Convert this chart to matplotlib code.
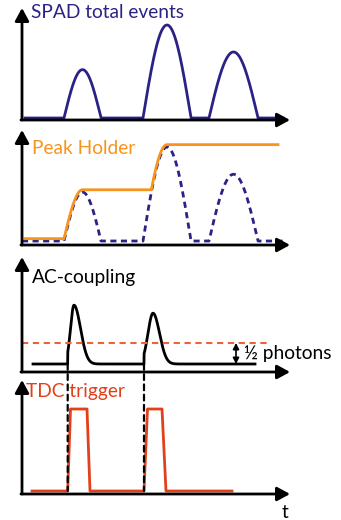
import numpy as np
import matplotlib
matplotlib.use("Agg")
import matplotlib.pyplot as plt
from matplotlib.patches import ConnectionPatch

plt.rcParams['font.family'] = ['Lato', 'DejaVu Sans']

# ---- waveform parameters (time in arbitrary units, amplitude normalised) ----
spad_start = [42, 121, 187]          # hump onsets
spad_end = [79, 169, 236]            # hump ends
spad_peak = [0.52, 1.0, 0.71]        # hump amplitudes

ac_start = [45.7, 122.0]             # AC-coupled pulse onsets
ac_rise = [6.3, 9.0]                 # time from onset to pulse maximum
ac_amp = [1.40, 1.21]                # pulse heights (photons)
threshold = 0.5                      # discriminator level (photons)

tdc_rise_start = [45.7, 122.0]
tdc_rise_end = [48.5, 125.5]
tdc_fall_start = [65.0, 140.0]
tdc_fall_end = [68.0, 144.0]

NAVY = '#2b2287'
ORANGE = '#f7941d'
RED = '#e2401b'
THR = '#f0603c'
FS = 13.8

W, H = 341, 520
fig = plt.figure(figsize=(W / 100, H / 100), dpi=100)


def make_axes(axis_y, top_y, ylo, yhi):
    ax = fig.add_axes([22 / W, 1 - axis_y / H, (290 - 22) / W, (axis_y - top_y) / H])
    ax.set_xlim(0, 268)
    ax.set_ylim(ylo, yhi)
    ax.axis('off')
    kw = dict(arrowstyle='-|>,head_length=0.55,head_width=0.3', lw=2.0, color='black',
              mutation_scale=14, shrinkA=0, shrinkB=0)
    ax.annotate('', xy=(0, 1), xytext=(0, 0), xycoords='axes fraction',
                textcoords='axes fraction', arrowprops=kw, annotation_clip=False)
    ax.annotate('', xy=(1, 0), xytext=(-0.004, 0), xycoords='axes fraction',
                textcoords='axes fraction', arrowprops=kw, annotation_clip=False)
    return ax


def spad_signal(t):
    y = np.zeros_like(t)
    for s, e, p in zip(spad_start, spad_end, spad_peak):
        m = (t >= s) & (t <= e)
        y[m] = p * np.sin(np.pi * (t[m] - s) / (e - s))
    return y


# ---- panel 1: SPAD total events ----
ax1 = make_axes(120, 8, -2 / 93, 110 / 93)
t1 = np.linspace(3, 261, 2000)
ax1.plot(t1, spad_signal(t1), color=NAVY, lw=2.0, solid_joinstyle='round')
fig.text(31 / W, 1 - 13 / H, 'SPAD total events', color=NAVY, fontsize=FS,
         va='center', ha='left')

# ---- panel 2: peak holder ----
ax2 = make_axes(245, 130, -4 / 94, 111 / 94)
t2 = np.linspace(0, 261, 2000)
ax2.plot(t2, spad_signal(t2), color=NAVY, lw=2.0, ls=(0, (2.2, 1.6)))
th = np.linspace(3, 256, 2000)
hold = np.maximum.accumulate(spad_signal(th)) + 0.025
ax2.plot(th, hold, color=ORANGE, lw=2.0)
fig.text(32 / W, 1 - 148 / H, 'Peak Holder', color=ORANGE, fontsize=FS,
         va='center', ha='left')

# ---- panel 3: AC coupling ----
ax3 = make_axes(372, 257, -8 / 42, 107 / 42)
t3 = np.linspace(11, 233, 3000)
ac = np.zeros_like(t3)
for s, r, a in zip(ac_start, ac_rise, ac_amp):
    sr = r / 1.8
    rise = (t3 >= s) & (t3 < s + r)
    ac[rise] = a * np.exp(-0.5 * ((t3[rise] - s - r) / sr) ** 2)
    fall = t3 >= s + r
    ac[fall] += a * np.exp(-0.5 * ((t3[fall] - s - r) / 6.5) ** 2)
ax3.plot(t3, ac, color='black', lw=2.0)
ax3.plot([0, 248], [threshold, threshold], color=THR, lw=1.5, ls=(0, (3, 2.2)))
ax3.annotate('', xy=(214, threshold), xytext=(214, 0),
             arrowprops=dict(arrowstyle='<|-|>,head_length=0.35,head_width=0.18',
                             lw=1.2, color='black', mutation_scale=10,
                             shrinkA=0, shrinkB=0))
ax3.text(222, threshold / 2, '½ photons', fontsize=FS, va='center', ha='left',
         color='black', clip_on=False)
fig.text(32 / W, 1 - 278 / H, 'AC-coupling', color='black', fontsize=FS,
         va='center', ha='left')

# ---- panel 4: TDC trigger ----
ax4 = make_axes(494, 380, -3 / 82, 111 / 82)
tx = [10]
ty = [0]
for a, b, c, d in zip(tdc_rise_start, tdc_rise_end, tdc_fall_start, tdc_fall_end):
    tx += [a, b, c, d]
    ty += [0, 1, 1, 0]
tx.append(210)
ty.append(0)
ax4.plot(tx, ty, color=RED, lw=2.0)
fig.text(26 / W, 1 - 392 / H, 'TDC trigger', color=RED, fontsize=FS,
         va='center', ha='left')
fig.text(285 / W, 1 - 512 / H, 't', color='black', fontsize=FS,
         va='center', ha='center')

# trigger instants linking the two lower panels
for s in ac_start:
    con = ConnectionPatch(xyA=(s, 0), coordsA=ax3.transData,
                          xyB=(s, 0), coordsB=ax4.transData,
                          color='black', lw=1.6, ls=(0, (2.6, 2.0)), zorder=5)
    fig.add_artist(con)

fig.savefig('out.png', dpi=100)
